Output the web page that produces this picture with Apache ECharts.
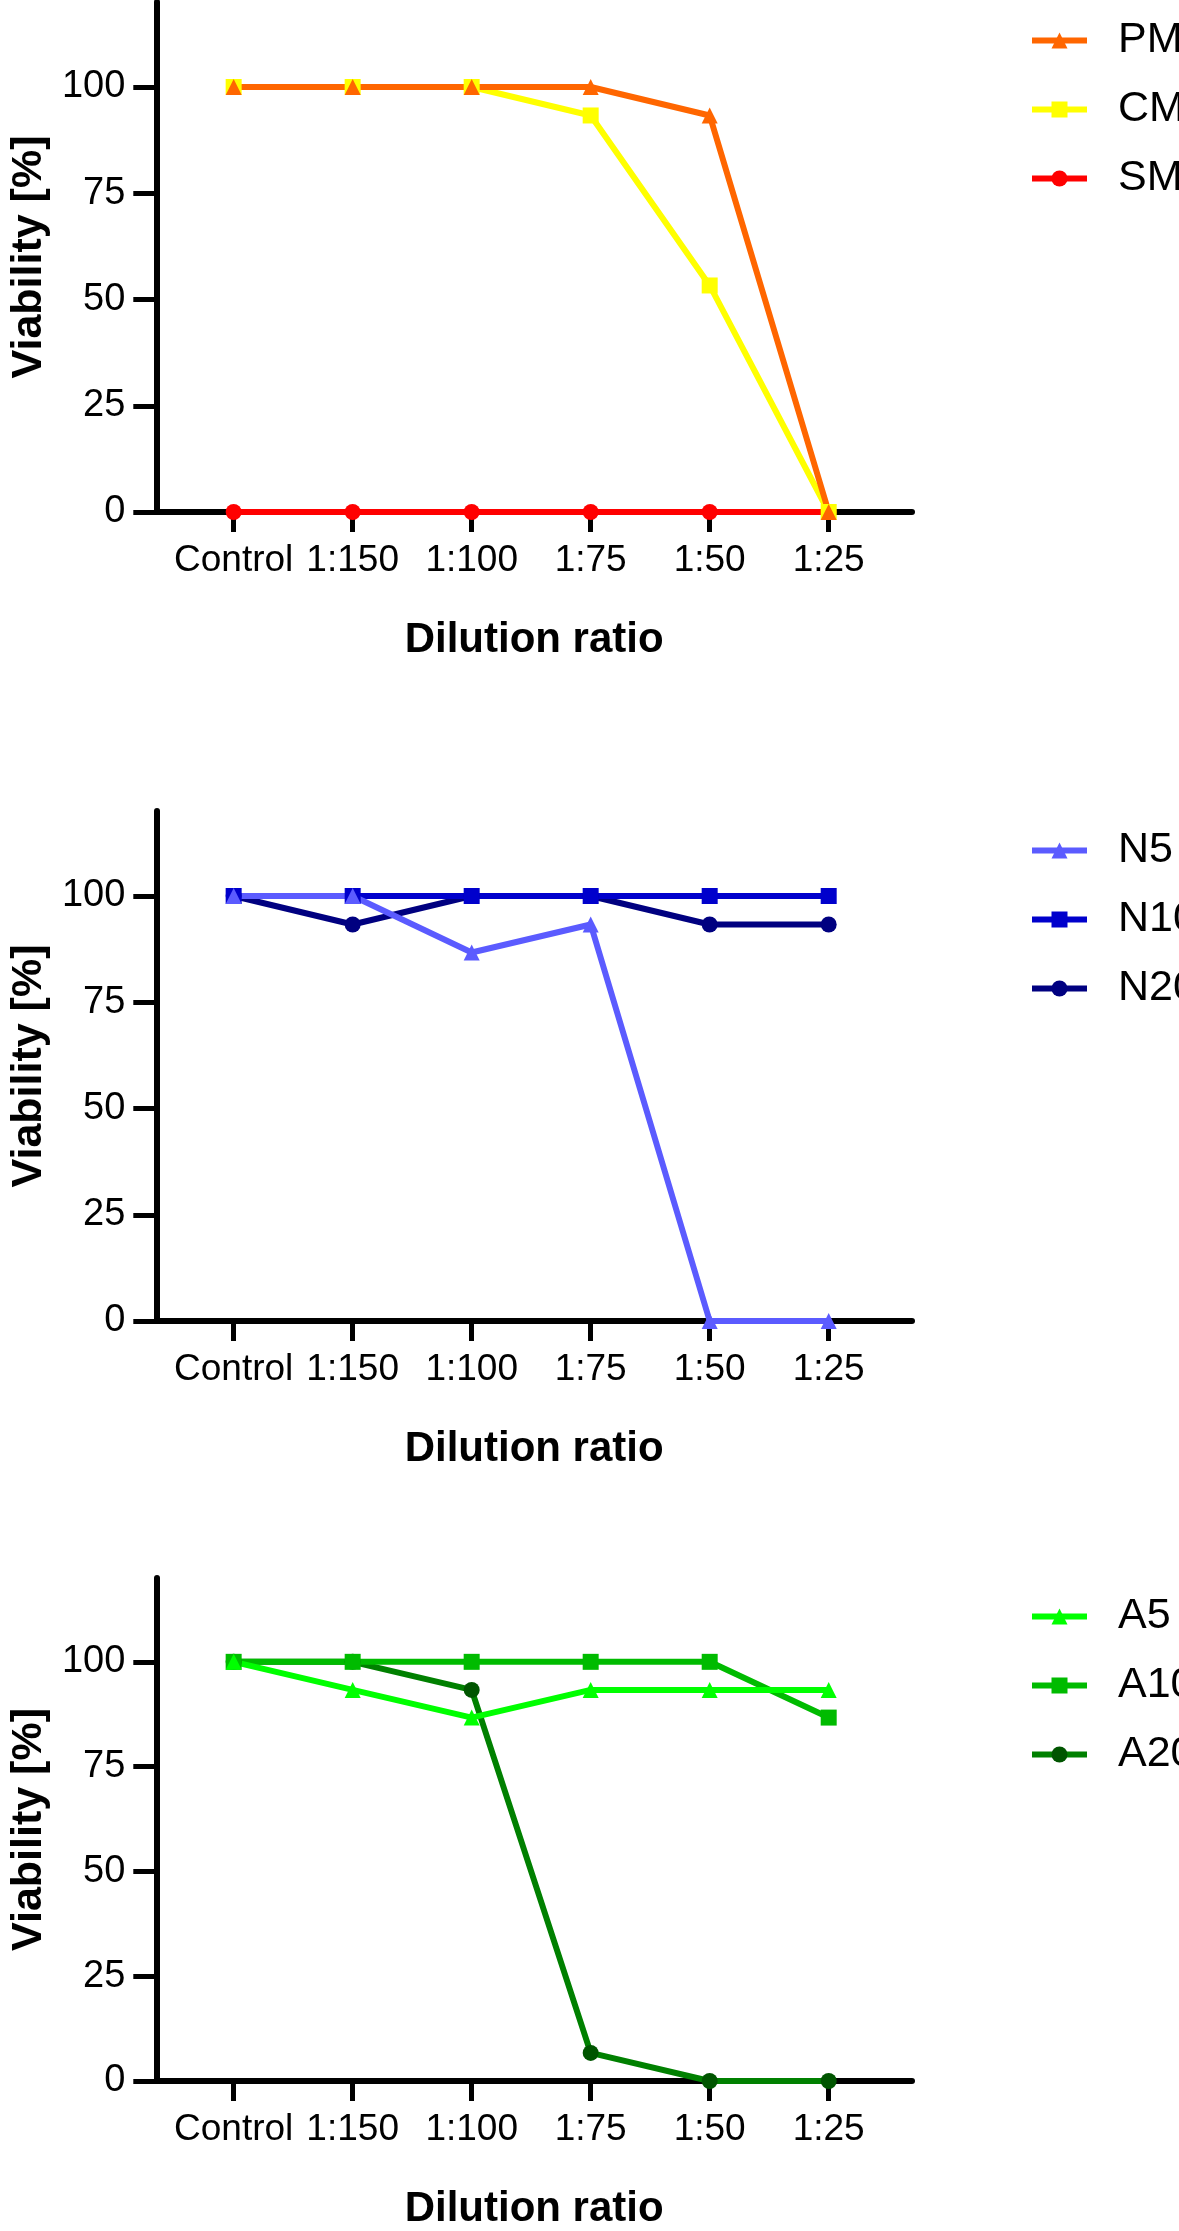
<!DOCTYPE html>
<html>
<head>
<meta charset="utf-8">
<title>Viability vs dilution ratio</title>
<script src="https://cdn.jsdelivr.net/npm/echarts@6/dist/echarts.min.js"></script>
<style>
html, body { margin: 0; padding: 0; background: #fff; }
#main { width: 1179px; height: 2231px; }
</style>
</head>
<body>
<div id="main"></div>
<script>
// x categories and y ticks
var categories = ['Control', '1:150', '1:100', '1:75', '1:50', '1:25']
var yTicks = [0, 25, 50, 75, 100]

// panel 1 (PM / CM / SM)
var pm = [100, 100, 100, 100, 93.3, 0]
var cm = [100, 100, 100, 93.3, 53.3, 0]
var sm = [0, 0, 0, 0, 0, 0]
// panel 2 (N5 / N10 / N20)
var n5 = [100, 100, 86.7, 93.3, 0, 0]
var n10 = [100, 100, 100, 100, 100, 100]
var n20 = [100, 93.3, 100, 100, 93.3, 93.3]
// panel 3 (A5 / A10 / A20)
var a5 = [100, 93.3, 86.7, 93.3, 93.3, 93.3]
var a10 = [100, 100, 100, 100, 100, 86.7]
var a20 = [100, 100, 93.3, 6.7, 0, 0]

var FONT = '"Liberation Sans", Arial, Helvetica, sans-serif'
var gridTops = [2, 811, 1578]
var legendTops = [14, 824, 1590]
var xTickIdx = categories.map(function (c, i) { return i })

function line (name, values, panel, color, symbol, markerColor) {
  return {
    name: name,
    type: 'line',
    xAxisIndex: panel,
    yAxisIndex: panel,
    data: values.map(function (v, i) { return [i, v] }),
    symbol: symbol,
    symbolSize: 16,
    clip: false,
    lineStyle: { color: color, width: 6 },
    itemStyle: { color: markerColor || color },
    emphasis: { disabled: true }
  }
}

var grids = []
var xAxes = []
var yAxes = []
var legends = []
var legendNames = [['PM', 'CM', 'SM'], ['N5', 'N10', 'N20'], ['A5', 'A10', 'A20']]

for (var p = 0; p < 3; p++) {
  grids.push({ left: 146, width: 766, top: gridTops[p], height: 510 })
  xAxes.push({
    type: 'value',
    gridIndex: p,
    min: -0.65,
    max: 5.7,
    name: 'Dilution ratio',
    nameLocation: 'middle',
    nameGap: 107,
    nameTextStyle: { fontSize: 42, fontWeight: 'bold', color: '#000', fontFamily: FONT },
    axisLine: { onZero: false, lineStyle: { color: '#000', width: 6 } },
    axisTick: { show: true, customValues: xTickIdx, length: 20, lineStyle: { color: '#000', width: 5 } },
    axisLabel: {
      customValues: xTickIdx,
      margin: 30,
      fontSize: 37,
      color: '#000',
      fontFamily: FONT,
      formatter: function (v) { return categories[Math.round(v)] }
    },
    splitLine: { show: false }
  })
  yAxes.push({
    type: 'value',
    gridIndex: p,
    min: 0,
    max: 120,
    name: 'Viability [%]',
    nameLocation: 'middle',
    nameGap: 105,
    nameTextStyle: { fontSize: 43, fontWeight: 'bold', color: '#000', fontFamily: FONT },
    axisLine: { show: true, onZero: false, lineStyle: { color: '#000', width: 6 } },
    axisTick: { show: true, customValues: yTicks, length: 23, lineStyle: { color: '#000', width: 5 } },
    axisLabel: { customValues: yTicks, margin: 31, fontSize: 38, color: '#000', fontFamily: FONT },
    splitLine: { show: false }
  })
  legends.push({
    data: legendNames[p],
    orient: 'vertical',
    left: 1024,
    top: legendTops[p],
    itemWidth: 55,
    itemHeight: 20,
    itemGap: 26,
    selectedMode: false,
    lineStyle: { width: 6 },
    textStyle: { fontSize: 43, color: '#000', fontFamily: FONT, padding: [0, 0, 0, 26] }
  })
}

var chart = echarts.init(document.getElementById('main'))
chart.setOption({
  animation: false,
  backgroundColor: '#fff',
  grid: grids,
  xAxis: xAxes,
  yAxis: yAxes,
  legend: legends,
  series: [
    // drawn bottom to top
    line('SM', sm, 0, '#ff0000', 'circle'),
    line('CM', cm, 0, '#ffff00', 'rect'),
    line('PM', pm, 0, '#ff6600', 'triangle'),
    line('N20', n20, 1, '#000080', 'circle'),
    line('N10', n10, 1, '#0000cc', 'rect'),
    line('N5', n5, 1, '#5b5bff', 'triangle'),
    line('A20', a20, 2, '#008000', 'circle', '#005500'),
    line('A10', a10, 2, '#00bb00', 'rect'),
    line('A5', a5, 2, '#00ff00', 'triangle')
  ]
})
</script>
</body>
</html>
